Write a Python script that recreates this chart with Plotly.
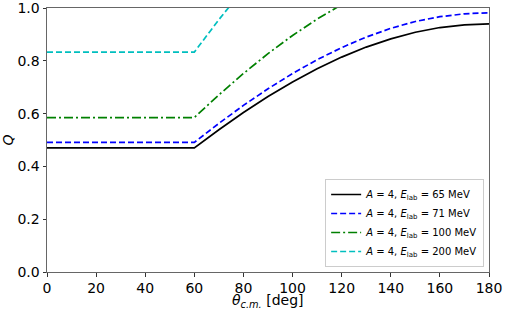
import plotly.graph_objects as go

theta = [0, 60, 70, 80, 90, 100, 110, 120, 130, 140, 150, 160, 170, 180]
q_65 = [0.470, 0.470, 0.539, 0.604, 0.665, 0.720, 0.770, 0.814, 0.852, 0.883, 0.908, 0.926, 0.936, 0.940]
q_71 = [0.491, 0.491, 0.563, 0.631, 0.694, 0.752, 0.804, 0.850, 0.890, 0.923, 0.949, 0.967, 0.978, 0.982]
theta_100 = [0, 60, 70, 80, 90, 100, 110, 120]
q_100 = [0.585, 0.585, 0.671, 0.752, 0.827, 0.896, 0.958, 1.013]
theta_200 = [0, 60, 70, 80]
q_200 = [0.833, 0.833, 0.956, 1.071]

labels = [
    "<i>A</i> = 4, <i>E</i><sub>lab</sub> = 65 MeV",
    "<i>A</i> = 4, <i>E</i><sub>lab</sub> = 71 MeV",
    "<i>A</i> = 4, <i>E</i><sub>lab</sub> = 100 MeV",
    "<i>A</i> = 4, <i>E</i><sub>lab</sub> = 200 MeV",
]
x_title = "<i>θ</i><sub><i>c.m.</i></sub> [deg]"
y_title = "<i>Q</i>"

fig = go.Figure()
fig.add_trace(go.Scatter(x=theta, y=q_65, mode="lines", name=labels[0],
                         line=dict(color="black", width=1.7)))
fig.add_trace(go.Scatter(x=theta, y=q_71, mode="lines", name=labels[1],
                         line=dict(color="#0000ff", width=1.7, dash="6px,3px")))
fig.add_trace(go.Scatter(x=theta_100, y=q_100, mode="lines", name=labels[2],
                         line=dict(color="#008000", width=1.7, dash="9px,3px,2px,3px")))
fig.add_trace(go.Scatter(x=theta_200, y=q_200, mode="lines", name=labels[3],
                         line=dict(color="#00bfbf", width=1.7, dash="6px,3px")))

axis_common = dict(
    showgrid=False, zeroline=False, showline=True, linecolor="#666666", linewidth=1,
    mirror=True, ticks="outside", ticklen=3.5, tickcolor="#333333", tickwidth=1,
    tickfont=dict(size=14, color="black"), automargin=False,
    ticklabeloverflow="allow",
)
fig.update_xaxes(range=[0, 180], tickmode="array", tickvals=list(range(0, 181, 20)),
                 **axis_common)
fig.update_yaxes(range=[0, 1.0], tickmode="array", tickvals=[0, 0.2, 0.4, 0.6, 0.8, 1.0],
                 ticktext=["0.0", "0.2", "0.4", "0.6", "0.8", "1.0"],
                 title=dict(text=y_title, font=dict(size=14, color="black"), standoff=4),
                 **axis_common)

fig.add_annotation(text=x_title, xref="paper", yref="paper", x=0.5, y=-0.108,
                   xanchor="center", yanchor="middle", showarrow=False,
                   font=dict(size=14, color="black"))

fig.update_layout(
    width=505, height=310,
    margin=dict(l=47, r=16, t=8, b=38),
    paper_bgcolor="white", plot_bgcolor="white",
    font=dict(family="DejaVu Sans", color="black"),
    showlegend=True,
    legend=dict(x=0.989, y=0.019, xanchor="right", yanchor="bottom",
                bgcolor="rgba(255,255,255,0.8)", bordercolor="#cccccc", borderwidth=1,
                font=dict(size=10, color="black"), tracegroupgap=0,
                itemwidth=30),
)

fig.write_html("out.html", config={"displayModeBar": False},
               post_script="document.body.style.margin='0';document.body.style.overflow='hidden';")
